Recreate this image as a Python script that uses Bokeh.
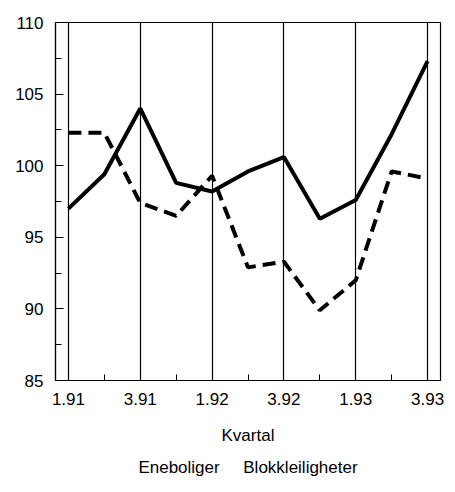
from bokeh.plotting import figure
from bokeh.models import FixedTicker, Range1d, Title
from bokeh.embed import file_html
from bokeh.resources import INLINE

quarters = ["1.91", "2.91", "3.91", "4.91", "1.92", "2.92", "3.92", "4.92", "1.93", "2.93", "3.93"]
eneboliger = [97.0, 99.4, 104.0, 98.8, 98.2, 99.6, 100.6, 96.3, 97.6, 102.2, 107.3]
blokk = [102.3, 102.3, 97.4, 96.5, 99.3, 92.9, 93.3, 89.9, 92.0, 99.6, 99.1]
y_ticks = [85, 90, 95, 100, 105, 110]
x_label = "Kvartal"
legend_names = ["Eneboliger", "Blokkleiligheter"]

FONT = "Liberation Sans"

xs = list(range(len(quarters)))
major_x = xs[::2]

p = figure(width=447, height=484, output_backend="svg", toolbar_location=None,
           x_range=Range1d(-0.36, 10.36), y_range=Range1d(85, 110),
           min_border_left=55, min_border_right=7, min_border_top=22, min_border_bottom=101)
p.outline_line_color = "black"
p.outline_line_width = 1.2
p.background_fill_color = "white"

p.line(xs, eneboliger, line_color="black", line_width=4)
p.line(xs, blokk, line_color="black", line_width=4, line_dash="13 7")

p.xaxis.ticker = FixedTicker(ticks=major_x, minor_ticks=[x for x in xs if x % 2 == 1])
p.xaxis.major_label_overrides = {i: quarters[i] for i in major_x}
p.yaxis.ticker = FixedTicker(ticks=y_ticks, minor_ticks=[87.5, 92.5, 97.5, 102.5, 107.5])

for ax in (p.xaxis[0], p.yaxis[0]):
    ax.axis_line_color = "black"
    ax.axis_line_width = 1.2
    ax.major_tick_in = 8
    ax.major_tick_out = 0
    ax.minor_tick_in = 6
    ax.minor_tick_out = 0
    ax.major_tick_line_color = "black"
    ax.minor_tick_line_color = "black"
    ax.major_label_text_font = FONT
    ax.major_label_text_font_size = "17px"
    ax.major_label_text_color = "black"
    ax.major_label_standoff = 12

p.xaxis.axis_label = x_label
p.xaxis.axis_label_text_font = FONT
p.xaxis.axis_label_text_font_size = "17px"
p.xaxis.axis_label_text_font_style = "normal"
p.xaxis.axis_label_text_color = "black"
p.xaxis.axis_label_standoff = 18

p.xgrid.ticker = FixedTicker(ticks=major_x)
p.xgrid.grid_line_color = "black"
p.xgrid.grid_line_width = 1.2
p.ygrid.grid_line_color = None

legend_text = ("\u00a0" * 5).join(legend_names)
p.add_layout(Title(text=legend_text, align="center", text_font=FONT, text_font_size="17px",
                   text_font_style="normal", text_color="black", standoff=16), "below")

open("out.html", "w").write(file_html(p, INLINE))
